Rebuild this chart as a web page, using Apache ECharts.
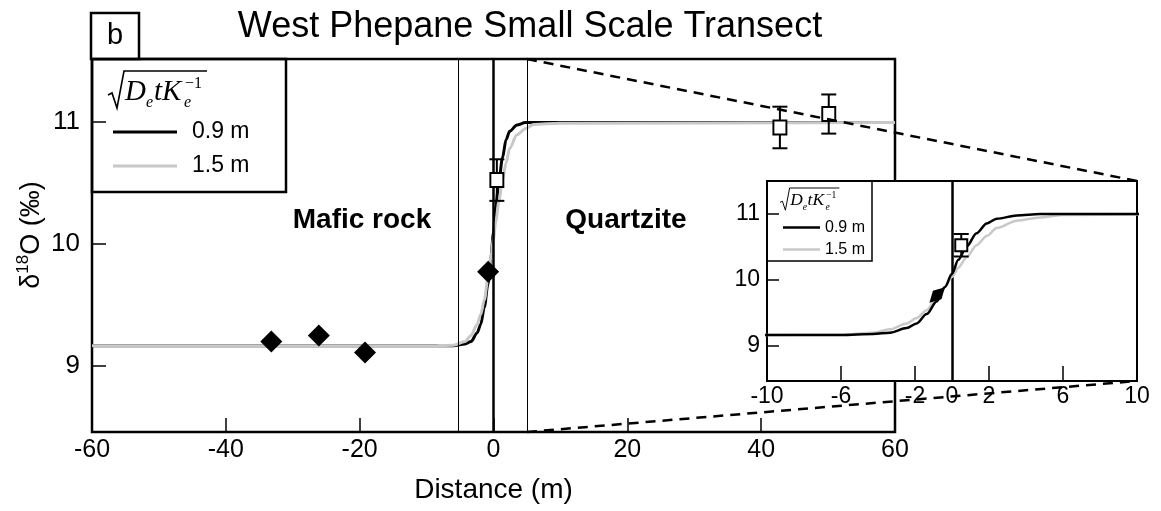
<!DOCTYPE html>
<html>
<head>
<meta charset="utf-8">
<style>
  html, body { margin: 0; padding: 0; background: #fff; }
  #chart { width: 1161px; height: 511px; }
</style>
<script src="https://cdn.jsdelivr.net/npm/echarts@6/dist/echarts.min.js"></script>
</head>
<body>
<div id="chart"></div>
<script>
// Diffusion model profiles across the contact (distance in m, d18O in permil)
const distance = [-60, -10, -6, -4.25, -3.35, -2.45, -1.91, -1.37, -0.83, -0.38, 0, 0.34, 0.79, 1.33, 1.88, 2.42, 3.5, 4.76, 6, 10, 60];
const model09 = [9.165, 9.165, 9.165, 9.18, 9.20, 9.27, 9.34, 9.48, 9.67, 9.89, 10.09, 10.30, 10.50, 10.70, 10.85, 10.92, 10.97, 10.99, 10.99, 10.99, 10.99];
const model15 = [9.165, 9.165, 9.17, 9.20, 9.25, 9.34, 9.42, 9.54, 9.72, 9.89, 10.04, 10.18, 10.34, 10.52, 10.66, 10.78, 10.89, 10.94, 10.975, 10.985, 10.99];

// Measured samples
const maficX = [-33.2, -26.1, -19.2, -0.8];
const maficY = [9.20, 9.25, 9.11, 9.77];
const quartzX = [0.5, 42.8, 50.1];
const quartzY = [10.52, 10.95, 11.06];
const quartzErr = [0.17, 0.17, 0.16];

// Contact and zoom-window boundaries
const contacts = [-5.2, 0, 5];
const zoomEdge = 5;

// Axis ticks
const yTicks = [9, 10, 11];
const insetXLabels = [-10, -6, -2, 0, 2, 6, 10];
const insetXTicks = [-6, -2, 2, 6];

const FONT = 'Liberation Sans';
const SERIF = 'Liberation Serif';
const BLACK = '#000000';
const GRAY = '#c8c8c8';

const chart = echarts.init(document.getElementById('chart'), null, { renderer: 'canvas' });

const zip2 = (xs, ys) => xs.map((x, i) => [x, ys[i]]);
const zip3 = (xs, ys, es) => xs.map((x, i) => [x, ys[i], es[i]]);

function errorBars(capHalf, width) {
  return function (params, api) {
    const x = api.value(0), y = api.value(1), e = api.value(2);
    const top = api.coord([x, y + e]);
    const bot = api.coord([x, y - e]);
    const st = { stroke: BLACK, lineWidth: width };
    return {
      type: 'group',
      children: [
        { type: 'line', shape: { x1: top[0], y1: top[1], x2: bot[0], y2: bot[1] }, style: st },
        { type: 'line', shape: { x1: top[0] - capHalf, y1: top[1], x2: top[0] + capHalf, y2: top[1] }, style: st },
        { type: 'line', shape: { x1: bot[0] - capHalf, y1: bot[1], x2: bot[0] + capHalf, y2: bot[1] }, style: st }
      ]
    };
  };
}

const hiddenLine = { show: false, onZero: false };

const option = {
  animation: false,
  backgroundColor: '#ffffff',
  textStyle: { fontFamily: FONT, color: BLACK },
  grid: [
    { left: 92, top: 59, width: 803, height: 373, show: true, borderColor: BLACK, borderWidth: 2.5, backgroundColor: 'transparent' },
    { left: 767, top: 181, width: 370, height: 200, show: true, borderColor: BLACK, borderWidth: 2, backgroundColor: '#ffffff' }
  ],
  xAxis: [
    {
      gridIndex: 0, type: 'value', min: -60, max: 60, interval: 20,
      name: 'Distance (m)', nameLocation: 'middle', nameGap: 44,
      nameTextStyle: { fontSize: 28, color: BLACK, fontFamily: FONT },
      axisLine: hiddenLine,
      axisTick: { show: true, inside: true, length: 14, lineStyle: { color: BLACK, width: 1.5 } },
      axisLabel: { fontSize: 25, color: BLACK, margin: 6, fontFamily: FONT },
      splitLine: { show: false }
    },
    {
      gridIndex: 1, type: 'value', min: -10, max: 10,
      axisLine: hiddenLine,
      axisTick: { show: true, inside: true, length: 15, customValues: insetXTicks, lineStyle: { color: BLACK, width: 1.5 } },
      axisLabel: { fontSize: 23, color: BLACK, margin: 4, customValues: insetXLabels, fontFamily: FONT },
      splitLine: { show: false }
    }
  ],
  yAxis: [
    {
      gridIndex: 0, type: 'value', min: 8.46, max: 11.51,
      axisLine: hiddenLine,
      axisTick: { show: true, inside: true, length: 14, customValues: yTicks, lineStyle: { color: BLACK, width: 1.5 } },
      axisLabel: { fontSize: 26, color: BLACK, margin: 12, customValues: yTicks, fontFamily: FONT },
      splitLine: { show: false }
    },
    {
      gridIndex: 1, type: 'value', min: 8.47, max: 11.49,
      axisLine: hiddenLine,
      axisTick: { show: true, inside: true, length: 12, customValues: yTicks, lineStyle: { color: BLACK, width: 1.5 } },
      axisLabel: { fontSize: 23, color: BLACK, margin: 7, customValues: yTicks, fontFamily: FONT },
      splitLine: { show: false }
    }
  ],
  legend: [
    {
      data: ['0.9 m', '1.5 m'], orient: 'vertical', left: 108, top: 115,
      icon: 'rect', itemWidth: 64, itemHeight: 3, itemGap: 10,
      textStyle: { fontSize: 23, lineHeight: 24, color: BLACK, fontFamily: FONT, padding: [0, 0, 0, 10] },
      selectedMode: false
    },
    {
      data: ['0.9 m', '1.5 m'], orient: 'vertical', left: 778, top: 214,
      icon: 'rect', itemWidth: 37, itemHeight: 2.5, itemGap: 5,
      textStyle: { fontSize: 16, lineHeight: 17, color: BLACK, fontFamily: FONT },
      selectedMode: false
    }
  ],
  series: [
    // main panel
    {
      name: '0.9 m', type: 'line', xAxisIndex: 0, yAxisIndex: 0, z: 3,
      data: zip2(distance, model09), showSymbol: false, smooth: 0.3, smoothMonotone: 'x',
      lineStyle: { color: BLACK, width: 3 }, itemStyle: { color: BLACK },
      markLine: {
        silent: true, symbol: 'none', label: { show: false },
        data: contacts.map(c => ({ xAxis: c, lineStyle: { color: BLACK, type: 'solid', width: c === 0 ? 2.5 : 1 } }))
      }
    },
    {
      name: '1.5 m', type: 'line', xAxisIndex: 0, yAxisIndex: 0, z: 4,
      data: zip2(distance, model15), showSymbol: false, smooth: 0.3, smoothMonotone: 'x',
      lineStyle: { color: GRAY, width: 3 }, itemStyle: { color: GRAY }
    },
    {
      type: 'custom', xAxisIndex: 0, yAxisIndex: 0, z: 5, clip: true,
      data: zip3(quartzX, quartzY, quartzErr), encode: { x: 0, y: 1 },
      renderItem: errorBars(7.5, 2)
    },
    {
      type: 'scatter', xAxisIndex: 0, yAxisIndex: 0, z: 6,
      data: zip2(quartzX, quartzY), symbol: 'rect', symbolSize: [13, 14],
      itemStyle: { color: '#ffffff', borderColor: BLACK, borderWidth: 2, opacity: 1 }
    },
    {
      type: 'scatter', xAxisIndex: 0, yAxisIndex: 0, z: 6,
      data: zip2(maficX, maficY), symbol: 'diamond', symbolSize: 22,
      itemStyle: { color: BLACK, opacity: 1 }
    },
    // enlarged panel
    {
      name: '1.5 m', type: 'line', xAxisIndex: 1, yAxisIndex: 1, z: 13,
      data: zip2(distance, model15), showSymbol: false, smooth: 0.3, smoothMonotone: 'x',
      lineStyle: { color: GRAY, width: 2.5 }, itemStyle: { color: GRAY }
    },
    {
      name: '0.9 m', type: 'line', xAxisIndex: 1, yAxisIndex: 1, z: 14,
      data: zip2(distance, model09), showSymbol: false, smooth: 0.3, smoothMonotone: 'x',
      lineStyle: { color: BLACK, width: 2.5 }, itemStyle: { color: BLACK },
      markLine: {
        silent: true, symbol: 'none', label: { show: false },
        data: [{ xAxis: 0, lineStyle: { color: BLACK, type: 'solid', width: 2.5 } }]
      }
    },
    {
      type: 'custom', xAxisIndex: 1, yAxisIndex: 1, z: 15, clip: true,
      data: zip3(quartzX, quartzY, quartzErr), encode: { x: 0, y: 1 },
      renderItem: errorBars(7.5, 2)
    },
    {
      type: 'scatter', xAxisIndex: 1, yAxisIndex: 1, z: 16, clip: true,
      data: zip2(quartzX, quartzY), symbol: 'rect', symbolSize: [12, 12],
      itemStyle: { color: '#ffffff', borderColor: BLACK, borderWidth: 2, opacity: 1 }
    },
    {
      type: 'scatter', xAxisIndex: 1, yAxisIndex: 1, z: 16, clip: true,
      data: zip2(maficX, maficY), symbol: 'diamond', symbolSize: [12, 22], symbolRotate: -45,
      itemStyle: { color: BLACK, opacity: 1 }
    }
  ]
};

chart.setOption(option);

// sqrt(De t Ke^-1) label, drawn in local units and scaled
function formula(x, y, s) {
  const t = (txt, lx, ly, size) => ({
    type: 'text', x: lx, y: ly,
    style: { text: txt, font: 'italic ' + size + 'px "' + SERIF + '"', fill: BLACK, align: 'left', verticalAlign: 'middle' }
  });
  return {
    type: 'group', x: x, y: y, scaleX: s, scaleY: s, z: 60,
    children: [
      { type: 'polyline', shape: { points: [[0, 24], [4, 22], [9, 37], [16, 0], [99, 0]] }, style: { stroke: BLACK, lineWidth: 1.6, fill: null } },
      t('D', 17, 21, 29),
      t('e', 38, 32, 16),
      t('t', 46, 21, 29),
      t('K', 54, 21, 29),
      t('e', 76, 32, 16),
      { type: 'text', x: 77, y: 13, style: { text: '\u22121', font: '16px "' + SERIF + '"', fill: BLACK, align: 'left', verticalAlign: 'middle' } }
    ]
  };
}

function buildGraphics() {
  const topA = chart.convertToPixel({ gridIndex: 0 }, [zoomEdge, 11.51]);
  const botA = chart.convertToPixel({ gridIndex: 0 }, [zoomEdge, 8.46]);
  const topB = chart.convertToPixel({ gridIndex: 1 }, [10, 11.49]);
  const botB = chart.convertToPixel({ gridIndex: 1 }, [10, 8.47]);
  const dash = { stroke: BLACK, lineWidth: 2.5, lineDash: [10, 7] };
  return [
    { type: 'text', x: 530, y: 27, z: 60, style: { text: 'West Phepane Small Scale Transect', font: '36px "' + FONT + '"', fill: BLACK, align: 'center', verticalAlign: 'middle' } },
    { type: 'rect', z: 60, shape: { x: 91, y: 13, width: 48, height: 46 }, style: { stroke: BLACK, lineWidth: 2.5, fill: '#ffffff' } },
    { type: 'text', x: 115, y: 36, z: 61, style: { text: 'b', font: '29px "' + FONT + '"', fill: BLACK, align: 'center', verticalAlign: 'middle' } },
    { type: 'rect', z: 60, shape: { x: 92, y: 59, width: 194, height: 133 }, style: { stroke: BLACK, lineWidth: 2.5, fill: null } },
    { type: 'rect', z: 60, shape: { x: 767, y: 181, width: 105, height: 80 }, style: { stroke: BLACK, lineWidth: 1.5, fill: null } },
    formula(108, 71, 1),
    formula(780, 188, 0.6),
    {
      type: 'text', x: 30, y: 235, rotation: Math.PI / 2, z: 60,
      style: {
        text: '{d|\u03b4}{s|18}{d|O (\u2030)}', align: 'center', verticalAlign: 'middle', fill: BLACK,
        rich: {
          d: { fontSize: 27, fontFamily: FONT, lineHeight: 30, verticalAlign: 'bottom', fill: BLACK },
          s: { fontSize: 17, fontFamily: FONT, lineHeight: 17, verticalAlign: 'top', fill: BLACK }
        }
      }
    },
    { type: 'text', x: 362, y: 220, z: 60, style: { text: 'Mafic rock', font: 'bold 28px "' + FONT + '"', fill: BLACK, align: 'center', verticalAlign: 'middle' } },
    { type: 'text', x: 626, y: 220, z: 60, style: { text: 'Quartzite', font: 'bold 28px "' + FONT + '"', fill: BLACK, align: 'center', verticalAlign: 'middle' } },
    { type: 'line', z: 100, shape: { x1: topA[0], y1: topA[1], x2: topB[0], y2: topB[1] }, style: dash },
    { type: 'line', z: 100, shape: { x1: botA[0], y1: botA[1], x2: botB[0], y2: botB[1] }, style: dash }
  ];
}

chart.setOption({ graphic: buildGraphics() });
</script>
</body>
</html>
